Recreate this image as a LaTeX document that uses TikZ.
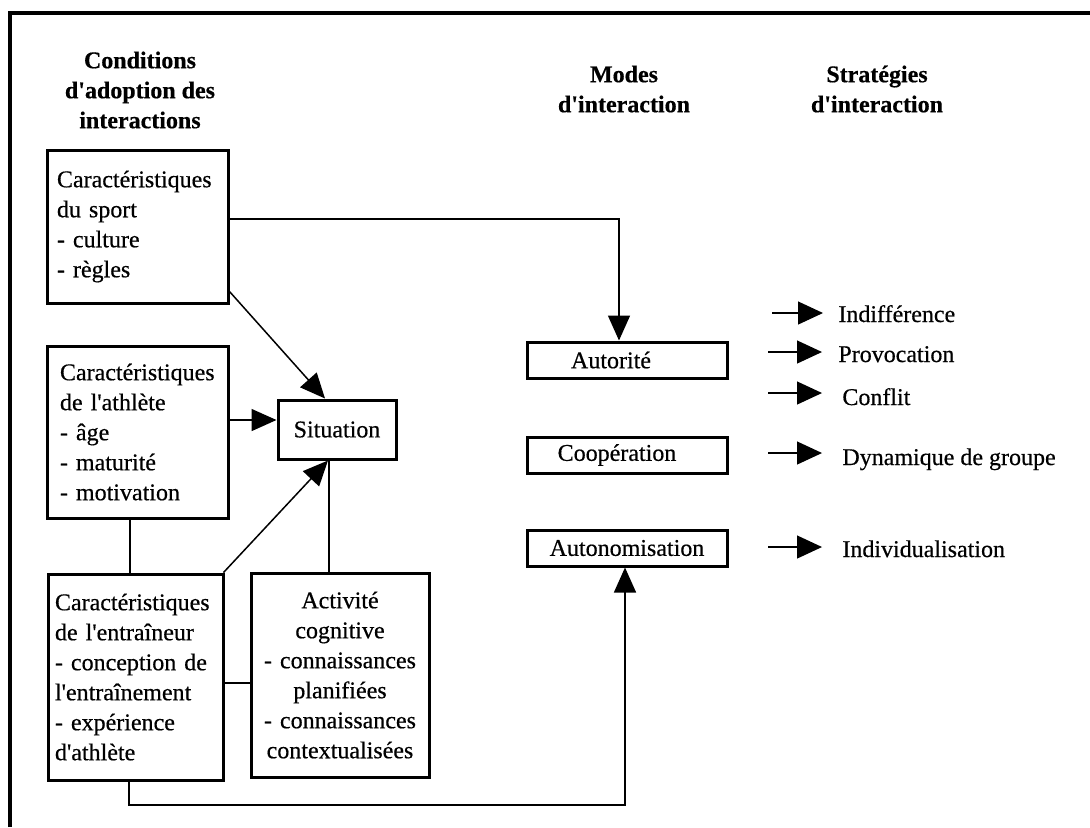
\documentclass[tikz,border=0pt]{standalone}
\usepackage{fontspec}
\setmainfont{Liberation Serif}[FakeBold=0.5]
\usetikzlibrary{arrows.meta}
\newcommand{\ap}{\textquotesingle}
\begin{document}
\begin{tikzpicture}[x=0.5pt,y=-0.5pt,
  every node/.style={font=\fontsize{12pt}{15pt}\selectfont},
  box/.style={draw, line width=1.5pt, inner ysep=0pt},
  lbox/.style={box, align=left},
  cbox/.style={box, align=center},
  modebox/.style={box, minimum width=100pt, minimum height=18pt, inner sep=0pt},
  conn/.style={line width=0.75pt},
  arr/.style={conn, -{Triangle[length=12.5pt,width=11pt]}},
  sarr/.style={line width=0.6pt, -{Triangle[length=12.5pt,width=11.5pt]}},
  head/.style={font=\bfseries\fontsize{12pt}{15pt}\selectfont, align=center, inner sep=0pt},
  strat/.style={anchor=base west, inner sep=0pt}
]
\useasboundingbox (0,0) rectangle (1090,827);
% frame (top and left sides only)
\draw[line width=1.6pt] (10,827) -- (10,13) -- (1090,13);

% headings
\node[head] (h1) at (140,90) {Conditions\\d\ap adoption des\\interactions};
\node[head] (h2) at (624,89) {Modes\\d\ap interaction};
\node[head] (h3) at (877,89) {Stratégies\\d\ap interaction};

% left boxes
\node[lbox, text width=80.5pt, inner xsep=5pt, minimum height=76.5pt] (sport) at (137.5,226.5)
  {Caractéristiques\\du sport\\- culture\\- règles};
\node[lbox, text width=77.5pt, inner xsep=6.5pt, minimum height=86pt] (athlete) at (137.5,432)
  {Caractéristiques\\de l\ap athlète\\- âge\\- maturité\\- motivation};
\node[lbox, text width=80.5pt, inner xsep=3.5pt, minimum height=103pt] (entraineur) at (135.5,677)
  {Caractéristiques\\de l\ap entraîneur\\- conception de\\l\ap entraînement\\- expérience\\d\ap athlète};
\node[cbox, text width=79pt, inner xsep=5pt, minimum height=102pt] (activite) at (340,675)
  {Activité\\cognitive\\- connaissances\\planifiées\\- connaissances\\contextualisées};
\node[box, minimum width=59pt, minimum height=29.5pt, inner sep=0pt] (situation) at (337,429.5) {Situation};

% mode boxes
\node[modebox] (autorite) at (627,360) {Autorité\hspace*{16pt}};
\node[modebox] (cooperation) at (627,455) {Coopération\hspace*{10pt}};
\node[modebox] (autonomisation) at (627,548) {Autonomisation};

% strategies
\node[strat] (ind) at (838,322) {Indifférence};
\node[strat] (prov) at (838,362) {Provocation};
\node[strat] (conf) at (842,405) {Conflit};
\node[strat] (dyn) at (842,465) {Dynamique de groupe};
\node[strat] (indiv) at (842,557) {Individualisation};

\coordinate (s1) at (772,313);
\coordinate (s2) at (768,352);
\coordinate (s3) at (768,393);
\coordinate (s4) at (768,453);
\coordinate (s5) at (768,547);
\draw[sarr] (s1) -- ([xshift=-7.5pt]s1 -| ind.west);
\draw[sarr] (s2) -- ([xshift=-8pt]s2 -| prov.west);
\draw[sarr] (s3) -- ([xshift=-10pt]s3 -| conf.west);
\draw[sarr] (s4) -- ([xshift=-10pt]s4 -| dyn.west);
\draw[sarr] (s5) -- ([xshift=-10pt]s5 -| indiv.west);

% connectors
\draw[arr] ([yshift=3.75pt]sport.east) -| ([xshift=-4pt]autorite.north);
\draw[arr] ([yshift=6.5pt]sport.south east) -- ([xshift=-6pt]situation.north);
\draw[arr] ([yshift=6pt]athlete.east) -- ([yshift=6pt]athlete.east -| situation.west);
\draw[arr] ([xshift=-0.5pt]entraineur.north east) -- ([xshift=-4.5pt]situation.south);
\draw[conn] ([xshift=-4pt]situation.south) -- ([xshift=-4pt]situation.south |- activite.north);
\draw[conn] ([xshift=-3.75pt]athlete.south) -- ([xshift=-3.75pt]athlete.south |- entraineur.north);
\draw[conn] ([yshift=-3pt]entraineur.east) -- ([yshift=-3pt]entraineur.east -| activite.west);
\coordinate (low) at (0,805);
\draw[arr] ([xshift=-3.25pt]entraineur.south) |- ([xshift=-1pt]autonomisation.south |- low) -- ([xshift=-1pt]autonomisation.south);
\end{tikzpicture}
\end{document}
